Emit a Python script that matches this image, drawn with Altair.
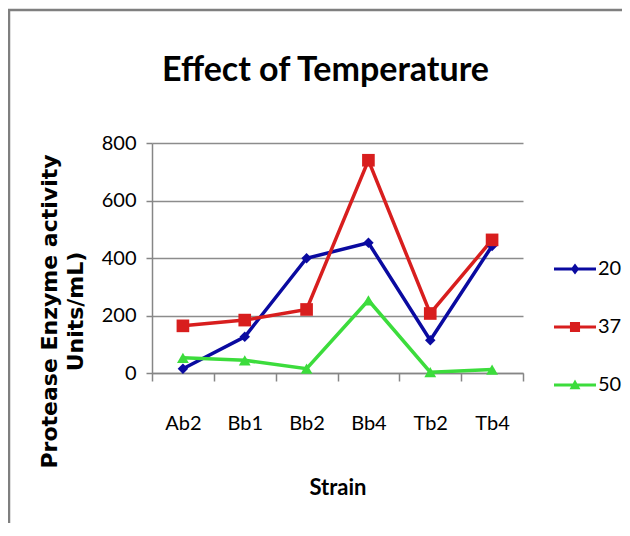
import altair as alt
import pandas as pd

# ---- data ----
strains = ["Ab2", "Bb1", "Bb2", "Bb4", "Tb2", "Tb4"]
temps = ["20", "37", "50"]
act_20 = [15, 126, 399, 453, 114, 442]
act_37 = [164, 184, 221, 740, 207, 463]
act_50 = [53, 44, 15, 253, 3, 12]
y_ticks = [0, 200, 400, 600, 800]

line_colors = ["#0A0AA0", "#D81E1E", "#3CDC3C"]
marker_shapes = ["diamond", "square", "triangle-up"]
marker_sizes = [110, 160, 140]
# legend symbols: a line with a marker on it (unit coords, [-1, 1])
legend_paths = [
    "M-1,-0.075L1,-0.075L1,0.075L-1,0.075Z M0,-0.26L0.2,0L0,0.26L-0.2,0Z",
    "M-1,-0.075L1,-0.075L1,0.075L-1,0.075Z M-0.24,-0.24L0.24,-0.24L0.24,0.24L-0.24,0.24Z",
    "M-1,-0.075L1,-0.075L1,0.075L-1,0.075Z M0,-0.26L0.26,0.2L-0.26,0.2Z",
]

rows = []
for t, vals in zip(temps, [act_20, act_37, act_50]):
    for s, v in zip(strains, vals):
        rows.append({"Strain": s, "Temp": t, "Activity": v})
df = pd.DataFrame(rows)

FONT = "Lato"
W, H = 371, 230
GRAY = "#868686"

x = alt.X(
    "Strain:N",
    sort=strains,
    scale=alt.Scale(type="band", paddingInner=0, paddingOuter=0),
    axis=alt.Axis(
        title="Strain",
        tickBand="extent",
        labelAngle=0,
        labelFont=FONT,
        labelFontSize=20,
        labelColor="black",
        labelPadding=32,
        tickSize=8,
        tickColor=GRAY,
        tickWidth=1.5,
        domainColor=GRAY,
        domainWidth=1.5,
        grid=False,
        titleFont=FONT,
        titleFontSize=22,
        titleFontWeight="bold",
        titleColor="black",
        titleY=114,
        titleBaseline="middle",
    ),
)
y = alt.Y(
    "Activity:Q",
    scale=alt.Scale(domain=[0, 800], nice=False),
    axis=alt.Axis(
        values=y_ticks,
        title=["Protease Enzyme activity", "Units/mL)"],
        titleFont="DejaVu Sans",
        titleFontSize=22,
        titleFontWeight="bold",
        titleColor="black",
        titleAngle=270,
        titleX=-103,
        titleY=168,
        titleAlign="center",
        titleBaseline="middle",
        titleLineHeight=26,
        labelFont=FONT,
        labelFontSize=20,
        labelColor="black",
        labelPadding=10,
        tickSize=6,
        tickColor=GRAY,
        tickWidth=1.5,
        domainColor=GRAY,
        domainWidth=1.5,
        gridColor="#8c8c8c",
        gridWidth=1.5,
    ),
)

base = alt.Chart(df)

line_layers = []
point_layers = []
for t, col, shp, sz in zip(temps, line_colors, marker_shapes, marker_sizes):
    sub = base.transform_filter(alt.datum.Temp == t)
    line_layers.append(sub.mark_line(strokeWidth=3.5, color=col).encode(x=x, y=y))
    point_layers.append(
        sub.mark_point(shape=shp, filled=True, size=sz, opacity=1, color=col).encode(x=x, y=y)
    )

# tiny same-colour dots hidden under the markers; they carry the legend
legend_layer = base.mark_point(filled=True, size=1, opacity=1).encode(
    x=x,
    y=y,
    fill=alt.Fill(
        "Temp:N",
        scale=alt.Scale(domain=temps, range=line_colors),
        legend=alt.Legend(
            orient="none",
            legendX=402,
            legendY=105,
            title=None,
            symbolSize=1764,
            symbolOpacity=1,
            symbolStrokeWidth=0,
            labelFont=FONT,
            labelFontSize=20,
            labelColor="black",
            labelOffset=2,
            rowPadding=27,
            padding=0,
        ),
    ),
    shape=alt.Shape("Temp:N", scale=alt.Scale(domain=temps, range=legend_paths)),
)

frame_df = pd.DataFrame({"k": [0]})
frame_top = alt.Chart(frame_df).mark_rule(color="#7f7f7f", strokeWidth=2.5).encode(
    x=alt.value(-150), x2=alt.value(W + 130), y=alt.value(-133)
)
frame_left = alt.Chart(frame_df).mark_rule(color="#7f7f7f", strokeWidth=2.5).encode(
    x=alt.value(-143), y=alt.value(-133), y2=alt.value(H + 200)
)

chart = (
    alt.layer(frame_top, frame_left, *line_layers, *point_layers, legend_layer)
    .properties(
        width=W,
        height=H,
        padding={"left": 144, "top": 135, "right": 99, "bottom": 150},
        autosize=alt.AutoSizeParams(type="none"),
        title=alt.Title(
            "Effect of Temperature",
            font=FONT,
            fontSize=34,
            fontWeight="bold",
            color="black",
            anchor="middle",
            frame="group",
            offset=-79,
            dx=-12,
        ),
        background="white",
    )
    .configure_view(strokeWidth=0)
)

chart.save("out.html", embed_options={"renderer": "svg", "actions": False})
